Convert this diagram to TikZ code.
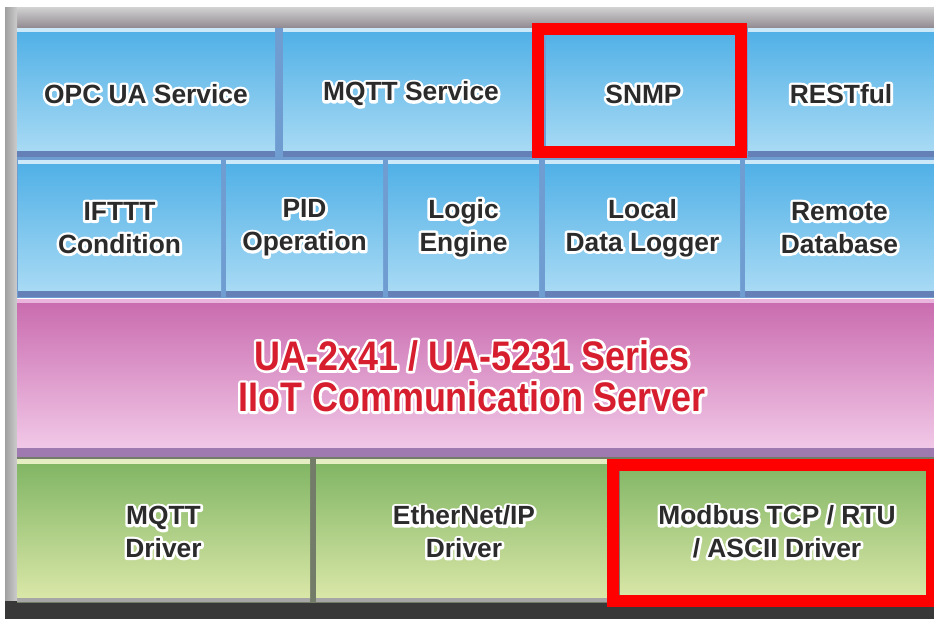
\documentclass[tikz,border=0pt]{standalone}
\usepackage{fontspec}
\setmainfont{Liberation Sans}
\newfontfamily\bannerfont[FakeStretch=0.87]{Liberation Sans}
\usepackage{tikz}
\definecolor{tileblue}{HTML}{4EAFE6}
\definecolor{tilebluelt}{HTML}{A8DAF4}
\definecolor{seamblue}{HTML}{6F9DD2}
\definecolor{baseblue}{HTML}{6480B6}
\definecolor{tilepink}{HTML}{C96AAE}
\definecolor{tilepinklt}{HTML}{F1C8E7}
\definecolor{basepink}{HTML}{9E7AB0}
\definecolor{tilegreen}{HTML}{7EB462}
\definecolor{tilegreenlt}{HTML}{DAE7A8}
\definecolor{seamgreen}{HTML}{737C69}
\definecolor{framegray}{HTML}{8A838A}
\definecolor{markred}{HTML}{FF0000}
\definecolor{titlered}{HTML}{D61E2E}
\definecolor{inkgray}{HTML}{2B2B2B}
% white halo behind a text line: a stroked copy, then the text itself
\newcommand{\halo}[1]{\rlap{\color{white}\special{pdf:literal direct 1 Tr 3 w 1 j}#1\special{pdf:literal direct 0 Tr}}#1}

\begin{document}
\begin{tikzpicture}[x=0.02cm,y=-0.02cm,
  tilelabel/.style={font=\bfseries\fontsize{15}{18.7}\selectfont,align=center,text=inkgray},
  banner/.style={font=\bannerfont\bfseries\fontsize{23.5}{23.5}\selectfont,align=center,text=titlered},
  marker/.style={draw=markred,line width=6.8pt}]
\useasboundingbox (0,0) rectangle (934,619);
% frame
\fill[white] (0,0) rectangle (934,619);
\shade[top color=gray!35,bottom color=framegray] (5,7) rectangle (934,30);
\shade[left color=gray!75,right color=gray!40] (5,7) rectangle (17,619);
\fill[black!78] (5,601) rectangle (934,619);
% service tiles
\fill[seamblue] (17,28) rectangle (934,298);
\foreach \xa/\xb/\nm/\txt in {17/275/opc/{\halo{OPC UA Service}},283/539/mqtts/{\halo{MQTT Service}},
  546/741/snmp/{\halo{SNMP}},748/934/rest/{\halo{RESTful}}}
{
  \shade[top color=tileblue,bottom color=tilebluelt] (\xa,28) rectangle (\xb,151);
  \fill[tilebluelt!60!white] (\xa,28) rectangle (\xb,32);
  \fill[baseblue] (\xa,151) rectangle (\xb,157);
  \node[tilelabel] (\nm) at ({(\xa+\xb)/2},94) {\txt};
}
\foreach \xa/\xb/\nm/\txt in {18/221/ifttt/{\halo{IFTTT}\\\halo{Condition}},226/383/pid/{\halo{PID}\\\halo{Operation}},
  388/539/logic/{\halo{Logic}\\\halo{Engine}},545/740/logger/{\halo{Local}\\\halo{Data Logger}},
  745/934/remote/{\halo{Remote}\\\halo{Database}}}
{
  \shade[top color=tileblue,bottom color=tilebluelt] (\xa,160) rectangle (\xb,291);
  \fill[tilebluelt!60!white] (\xa,160) rectangle (\xb,164);
  \fill[baseblue] (\xa,291) rectangle (\xb,297);
  \node[tilelabel] (\nm) at ({(\xa+\xb)/2},228) {\txt};
}
% server layer
\shade[top color=tilepink,bottom color=tilepinklt] (17,299) rectangle (934,448);
\fill[tilepinklt!80!tilepink] (17,299) rectangle (934,303);
\fill[basepink] (17,448) rectangle (934,457);
\node[banner] (server) at (472,376) {\halo{UA-2x41 / UA-5231 Series}\\\halo{IIoT Communication Server}};
% driver tiles
\fill[seamgreen] (17,457) rectangle (934,603);
\foreach \xa/\xb/\nm/\txt in {17/310/mqttd/{\halo{MQTT}\\\halo{Driver}},316/612/enip/{\halo{EtherNet/IP}\\\halo{Driver}},
  620/934/modbus/{\halo{Modbus TCP / RTU}\\\halo{/ ASCII Driver}}}
{
  \shade[top color=tilegreen,bottom color=tilegreenlt] (\xa,459) rectangle (\xb,598);
  \fill[tilegreenlt!70!white] (\xa,459) rectangle (\xb,464);
  \fill[gray!70] (\xa,598) rectangle (\xb,602);
  \node[tilelabel] (\nm) at ({(\xa+\xb)/2},532) {\txt};
}
% highlight marks
\draw[marker] (538,29) rectangle (741,152);
\draw[marker] (613,465) rectangle (932,601);
\end{tikzpicture}
\end{document}
